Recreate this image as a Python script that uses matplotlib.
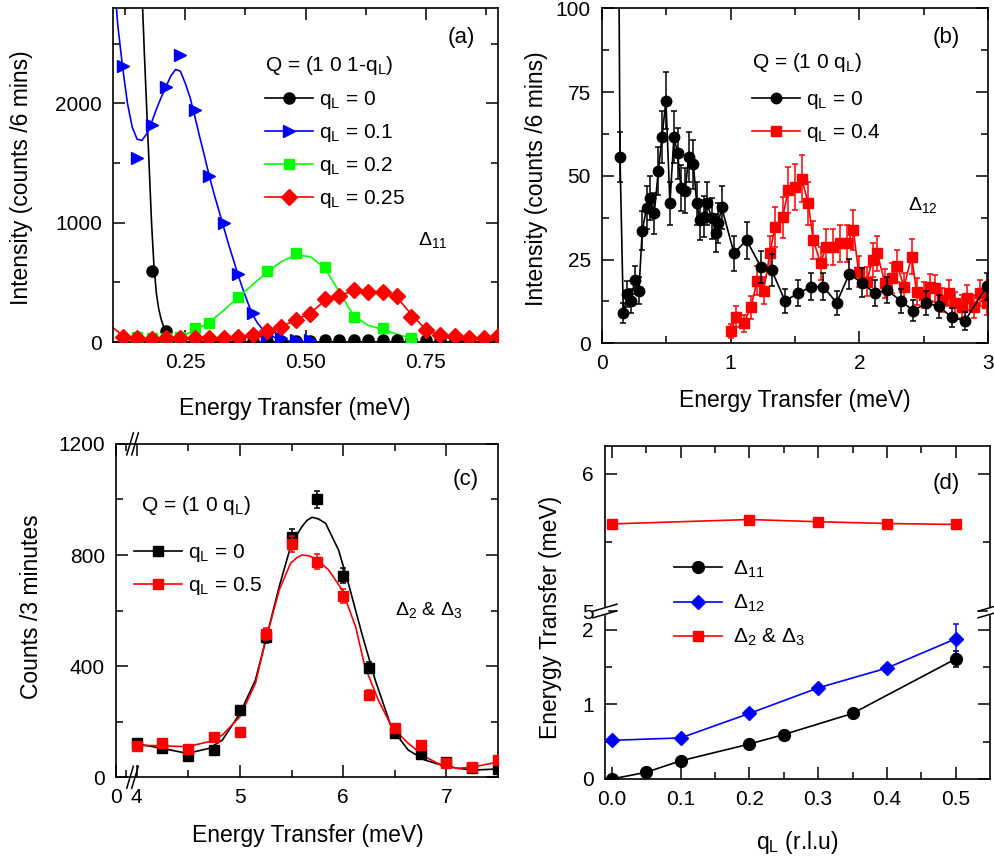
"""Four-panel spin-wave spectra figure: (a)-(d)."""

import matplotlib
matplotlib.use("Agg")
import matplotlib.pyplot as plt
import numpy as np
from matplotlib.ticker import FixedLocator, FormatStrFormatter

# ---------------- panel (a): Q = (1 0 1-qL) ----------------
a_x_q0 = [0.18, 0.21, 0.24, 0.27, 0.30, 0.33, 0.36, 0.39, 0.42, 0.45, 0.48, 0.51, 0.54,
          0.57, 0.60, 0.63, 0.66, 0.69, 0.72, 0.75, 0.78, 0.81, 0.84, 0.87, 0.90]
a_y_q0 = [594, 90, 15, 10, 8, 8, 8, 8, 10, 12, 12, 12, 15,
          15, 15, 15, 15, 15, 15, 15, 15, 15, 15, 15, 15]
a_x_q01 = [0.12, 0.15, 0.18, 0.21, 0.24, 0.27, 0.30, 0.33, 0.36, 0.39, 0.42, 0.45, 0.48, 0.51]
a_y_q01 = [2316, 1546, 1818, 2134, 2406, 1944, 1392, 994, 572, 244, 48, 30, 20, 15]
a_x_q02 = [0.15, 0.18, 0.21, 0.24, 0.27, 0.30, 0.36, 0.42, 0.48, 0.54, 0.60, 0.66, 0.72]
a_y_q02 = [42, 30, 35, 42, 118, 160, 378, 593, 750, 630, 210, 118, 34]
a_x_q025 = [0.12, 0.15, 0.18, 0.21, 0.24, 0.27, 0.30, 0.33, 0.36, 0.39, 0.42, 0.45, 0.48, 0.51,
            0.54, 0.57, 0.60, 0.63, 0.66, 0.69, 0.72, 0.75, 0.78, 0.81, 0.84, 0.87, 0.90]
a_y_q025 = [38, 30, 28, 30, 30, 30, 32, 34, 42, 60, 89, 126, 182, 232,
            361, 389, 434, 417, 417, 389, 210, 97, 61, 47, 34, 34, 47]
# fitted curves
a_fit_x_q0 = [0.155, 0.16, 0.165, 0.17, 0.175, 0.18, 0.185, 0.19, 0.195, 0.20, 0.205,
              0.21, 0.22, 0.23, 0.25, 0.90]
a_fit_y_q0 = [3600, 2950, 2430, 1950, 1480, 1000, 640, 410, 275, 190, 130, 85, 40, 15, 0, 0]
a_fit_x_q01 = [0.10, 0.11, 0.12, 0.13, 0.14, 0.15, 0.16, 0.17, 0.18, 0.19, 0.20, 0.21, 0.22,
               0.23, 0.24, 0.25, 0.26, 0.27, 0.28, 0.29, 0.30, 0.31, 0.32, 0.33, 0.34, 0.35,
               0.36, 0.37, 0.38, 0.39, 0.40, 0.41, 0.42, 0.44, 0.46, 0.50, 0.52]
a_fit_y_q01 = [3150, 2650, 2300, 2000, 1800, 1700, 1690, 1745, 1840, 1950, 2050, 2140, 2230,
               2285, 2270, 2170, 2050, 1890, 1720, 1560, 1390, 1240, 1100, 960, 820, 690,
               560, 440, 330, 230, 160, 110, 70, 30, 10, 0, 0]
a_fit_x_q02 = [0.15, 0.18, 0.21, 0.24, 0.27, 0.30, 0.33, 0.36, 0.39, 0.42, 0.45, 0.48, 0.51,
               0.54, 0.57, 0.60, 0.63, 0.66, 0.69, 0.72]
a_fit_y_q02 = [20, 20, 25, 40, 100, 165, 265, 375, 480, 585, 675, 730, 715,
               620, 420, 220, 140, 105, 65, 30]
a_fit_x_q025 = [0.10, 0.12, 0.14, 0.16, 0.20, 0.25, 0.30, 0.33, 0.36, 0.39, 0.42, 0.45, 0.48,
                0.51, 0.54, 0.57, 0.60, 0.63, 0.66, 0.69, 0.72, 0.75, 0.78, 0.81, 0.84, 0.87, 0.90]
a_fit_y_q025 = [120, 55, 15, 3, 0, 0, 5, 15, 30, 52, 85, 130, 185,
                245, 345, 395, 425, 428, 415, 375, 230, 105, 50, 20, 8, 2, 0]

# ---------------- panel (b): Q = (1 0 qL) ----------------
b_x_q0 = [0.11, 0.14, 0.166, 0.197, 0.223, 0.256, 0.287, 0.313, 0.347, 0.373, 0.406, 0.438,
          0.466, 0.497, 0.528, 0.559, 0.588, 0.614, 0.647, 0.673, 0.71, 0.736, 0.761, 0.79,
          0.818, 0.852, 0.886, 0.904, 0.93, 1.026, 1.124, 1.233, 1.318, 1.422, 1.525, 1.624,
          1.72, 1.823, 1.922, 2.018, 2.121, 2.212, 2.323, 2.419, 2.52, 2.62, 2.717, 2.82, 2.99]
b_y_q0 = [250, 55.7, 9.0, 14.7, 12.6, 18.9, 15.7, 33.6, 40.5, 43.3, 38.8, 51.5,
          61.5, 72.4, 41.8, 61.5, 56.7, 46.4, 45.5, 55.7, 53.5, 41.8, 36.8, 37.8,
          41.8, 37.3, 33.0, 35.8, 40.6, 26.9, 30.8, 22.9, 21.9, 12.7, 14.9, 16.9,
          16.9, 12.1, 20.7, 18.1, 14.9, 15.9, 12.7, 9.7, 12.0, 11.0, 7.8, 6.7, 17.0]
b_e_q0 = [16, 7.5, 3.0, 3.8, 3.5, 4.3, 4.0, 5.8, 6.4, 6.6, 6.2, 7.2,
          7.8, 8.5, 6.5, 7.8, 7.5, 6.8, 6.7, 7.5, 7.3, 6.5, 6.1, 6.1,
          6.5, 6.1, 5.7, 6.0, 6.4, 5.2, 5.5, 4.8, 4.7, 3.6, 3.9, 4.1,
          4.1, 3.5, 4.5, 4.3, 3.9, 4.0, 3.6, 3.1, 3.5, 3.3, 2.8, 2.6, 4.1]
b_x_q04 = [1.003, 1.044, 1.10, 1.158, 1.205, 1.256, 1.305, 1.344, 1.404, 1.448, 1.50, 1.552,
           1.603, 1.642, 1.699, 1.74, 1.797, 1.849, 1.906, 1.953, 1.994, 2.057, 2.103, 2.139,
           2.199, 2.251, 2.295, 2.347, 2.406, 2.445, 2.50, 2.552, 2.59, 2.642, 2.694, 2.746,
           2.798, 2.837, 2.889, 2.94, 2.992]
b_y_q04 = [3.7, 8.0, 6.0, 10.7, 18.7, 15.7, 26.9, 34.8, 37.6, 45.8, 46.7, 49.2,
           41.8, 30.8, 23.9, 28.8, 28.7, 29.8, 29.8, 33.8, 21.4, 18.4, 24.9, 26.9,
           17.9, 19.4, 23.1, 16.9, 25.9, 15.4, 14.4, 16.7, 16.4, 12.9, 14.9, 11.9,
           10.9, 13.6, 10.9, 14.9, 11.9]
b_e_q04 = [2.2, 3.0, 2.6, 3.4, 4.4, 4.1, 5.2, 5.9, 6.2, 6.8, 6.9, 7.0,
           6.5, 5.6, 4.9, 5.4, 5.4, 5.5, 5.5, 5.9, 4.7, 4.4, 5.0, 5.2,
           4.3, 4.5, 4.8, 4.2, 5.1, 4.0, 3.9, 4.1, 4.1, 3.6, 3.9, 3.5,
           3.4, 3.7, 3.4, 3.9, 3.5]

# ---------------- panel (c): Q = (1 0 qL), counts / 3 minutes ----------------
c_x = [4.0, 4.25, 4.5, 4.75, 5.0, 5.25, 5.5, 5.75, 6.0, 6.25, 6.5, 6.75, 7.0, 7.25, 7.5]
c_y_q0 = [125, 104, 78, 98, 242, 506, 866, 1001, 725, 395, 161, 83, 56, 32, 29]
c_e_q0 = [12, 10, 9, 10, 15, 22, 28, 31, 27, 20, 13, 9, 8, 6, 6]
c_y_q05 = [113, 122, 101, 144, 164, 516, 840, 776, 654, 296, 176, 116, 50, 38, 62]
c_e_q05 = [11, 11, 10, 12, 13, 22, 28, 27, 25, 17, 13, 11, 7, 6, 8]
c_fit_x_q0 = [4.0, 4.25, 4.49, 4.70, 4.83, 5.0, 5.15, 5.25, 5.38, 5.5, 5.6, 5.65, 5.7, 5.76,
              5.83, 5.955, 6.05, 6.18, 6.31, 6.47, 6.63, 6.79, 6.95, 7.11, 7.27, 7.5]
c_fit_y_q0 = [120, 104, 86, 104, 134, 230, 350, 494, 686, 842, 902, 925, 936, 930,
              914, 818, 698, 518, 350, 176, 98, 62, 44, 32, 26, 30]
c_fit_x_q05 = [4.0, 4.25, 4.49, 4.70, 4.83, 5.0, 5.15, 5.25, 5.38, 5.49, 5.55, 5.6, 5.66,
               5.73, 5.86, 5.99, 6.12, 6.21, 6.34, 6.47, 6.63, 6.79, 6.95, 7.11, 7.27, 7.5]
c_fit_y_q05 = [116, 113, 110, 128, 152, 218, 338, 494, 674, 770, 790, 800, 798,
               788, 746, 674, 542, 398, 278, 182, 122, 74, 44, 32, 38, 55]

# ---------------- panel (d): dispersion ----------------
d_x_d11 = [0.0, 0.05, 0.1, 0.2, 0.25, 0.35, 0.5]
d_y_d11 = [0.0, 0.09, 0.243, 0.468, 0.595, 0.878, 1.608]
d_e_d11 = [0.0, 0.05, 0.0, 0.0, 0.0, 0.0, 0.11]
d_x_d12 = [0.0, 0.1, 0.2, 0.3, 0.4, 0.5]
d_y_d12 = [0.518, 0.55, 0.878, 1.22, 1.486, 1.878]
d_e_d12 = [0.0, 0.0, 0.0, 0.0, 0.0, 0.2]
d_x_d23 = [0.0, 0.2, 0.3, 0.4, 0.5]
d_y_d23 = [5.634, 5.666, 5.65, 5.637, 5.63]

# broken-axis parameters
C_LO, C_HI = 0.16, 3.96
D_LO, D_HI, D_K = 2.25, 5.0, 1.84

BLACK, BLUE, GREEN, RED = "#000000", "#0000FF", "#00FF00", "#FF0000"
LW = 1.2
TICK_FS = 15
LABEL_FS = 16.5
LEG_FS = 15
ANN_FS = 14


def c_forward(x):
    x = np.asarray(x, dtype=float)
    return np.where(x <= C_LO, x, np.where(x < C_HI, C_LO, x - C_HI + C_LO))


def c_inverse(u):
    u = np.asarray(u, dtype=float)
    return np.where(u <= C_LO, u, u + C_HI - C_LO)


def d_forward(y):
    y = np.asarray(y, dtype=float)
    return np.where(y <= D_LO, y, np.where(y < D_HI, D_LO, D_LO + (y - D_HI) * D_K))


def d_inverse(u):
    u = np.asarray(u, dtype=float)
    return np.where(u <= D_LO, u, D_HI + (u - D_LO) / D_K)


def style_ticks(ax):
    ax.tick_params(which="both", direction="in", top=True, right=True, width=1.1,
                   labelsize=TICK_FS, pad=8)
    ax.tick_params(which="major", length=8.5)
    ax.tick_params(which="minor", length=5)
    for sp in ax.spines.values():
        sp.set_linewidth(1.2)


def slash(ax, fig, xf, yf, dx_px, dy_px, offsets, white=None):
    """Draw a pair of break marks centred at axes fraction (xf, yf)."""
    pos = ax.get_position()
    w = pos.width * fig.get_figwidth() * fig.dpi
    h = pos.height * fig.get_figheight() * fig.dpi
    if white is not None:
        wx, wy = white
        ax.fill([xf - wx / w, xf + wx / w, xf + wx / w, xf - wx / w],
                [yf - wy / h, yf - wy / h, yf + wy / h, yf + wy / h],
                color="white", transform=ax.transAxes, clip_on=False, zorder=5)
    for ox, oy in offsets:
        ax.plot([xf + (ox - dx_px) / w, xf + (ox + dx_px) / w],
                [yf + (oy - dy_px) / h, yf + (oy + dy_px) / h],
                color="black", lw=1.1, transform=ax.transAxes, clip_on=False, zorder=6)


def main() -> None:
    plt.rcParams["font.family"] = ["Liberation Sans", "DejaVu Sans"]
    plt.rcParams["mathtext.default"] = "regular"

    fig = plt.figure(figsize=(9.95, 8.6), dpi=100)
    ax_a = fig.add_axes([0.1136, 0.6023, 0.387, 0.3884])
    ax_b = fig.add_axes([0.605, 0.6008, 0.388, 0.3895])
    ax_c = fig.add_axes([0.1166, 0.0962, 0.384, 0.3876])
    ax_d = fig.add_axes([0.608, 0.0942, 0.387, 0.387])

    leg_kw = dict(loc="upper left", frameon=False, fontsize=LEG_FS, borderpad=0,
                  borderaxespad=0, handlelength=2.3, handletextpad=0.3, labelspacing=0.52)

    # ----- (a)
    ax = ax_a
    l0, = ax.plot(a_fit_x_q0, a_fit_y_q0, color=BLACK, lw=LW)
    m0, = ax.plot(a_x_q0, a_y_q0, "o", color=BLACK, ms=8, zorder=3)
    l1, = ax.plot(a_fit_x_q01, a_fit_y_q01, color=BLUE, lw=LW)
    m1, = ax.plot(a_x_q01, a_y_q01, ">", color=BLUE, ms=8.5, zorder=3)
    l2, = ax.plot(a_fit_x_q02, a_fit_y_q02, color=GREEN, lw=LW)
    m2, = ax.plot(a_x_q02, a_y_q02, "s", color=GREEN, ms=7.5, zorder=3)
    l3, = ax.plot(a_fit_x_q025, a_fit_y_q025, color=RED, lw=LW)
    m3, = ax.plot(a_x_q025, a_y_q025, "D", color=RED, ms=8, zorder=3)
    ax.set_xlim(0.1, 0.9)
    ax.set_ylim(0, 2800)
    ax.xaxis.set_major_locator(FixedLocator([0.25, 0.5, 0.75]))
    ax.xaxis.set_minor_locator(FixedLocator([0.125, 0.375, 0.625, 0.875]))
    ax.xaxis.set_major_formatter(FormatStrFormatter("%.2f"))
    ax.yaxis.set_major_locator(FixedLocator([0, 1000, 2000]))
    ax.yaxis.set_minor_locator(FixedLocator([500, 1500, 2500]))
    style_ticks(ax)
    ax.set_xlabel("Energy Transfer (meV)", fontsize=LABEL_FS)
    ax.set_ylabel("Intensity (counts /6 mins)", fontsize=LABEL_FS)
    ax.xaxis.set_label_coords(0.471, -0.165)
    ax.yaxis.set_label_coords(-0.207, 0.493)
    ax.text(0.395, 0.812, "Q = (1 0 1-q$_L$)", transform=ax.transAxes, fontsize=LEG_FS,
            va="baseline")
    ax.legend([(l0, m0), (l1, m1), (l2, m2), (l3, m3)],
              ["q$_L$ = 0", "q$_L$ = 0.1", "q$_L$ = 0.2", "q$_L$ = 0.25"],
              bbox_to_anchor=(0.395, 0.756), **leg_kw)
    ax.text(0.87, 0.911, "(a)", transform=ax.transAxes, fontsize=16, va="center")
    ax.text(0.792, 0.291, "Δ$_{11}$", transform=ax.transAxes, fontsize=ANN_FS,
            va="baseline")

    # ----- (b)
    ax = ax_b
    eb0 = ax.errorbar(b_x_q0, b_y_q0, yerr=b_e_q0, fmt="-o", color=BLACK, ms=7.5, lw=LW,
                      elinewidth=1.1, capsize=2.5, capthick=1.1, zorder=3)
    eb1 = ax.errorbar(b_x_q04, b_y_q04, yerr=b_e_q04, fmt="-s", color=RED, ms=6.5, lw=LW,
                      elinewidth=1.1, capsize=2.5, capthick=1.1, zorder=2)
    ax.set_xlim(0, 3)
    ax.set_ylim(0, 100)
    ax.xaxis.set_major_locator(FixedLocator([0, 1, 2, 3]))
    ax.xaxis.set_minor_locator(FixedLocator([0.5, 1.5, 2.5]))
    ax.yaxis.set_major_locator(FixedLocator([0, 25, 50, 75, 100]))
    ax.yaxis.set_minor_locator(FixedLocator([12.5, 37.5, 62.5, 87.5]))
    style_ticks(ax)
    ax.set_xlabel("Energy Transfer (meV)", fontsize=LABEL_FS)
    ax.set_ylabel("Intensity (counts /6 mins)", fontsize=LABEL_FS)
    ax.xaxis.set_label_coords(0.5, -0.136)
    ax.yaxis.set_label_coords(-0.139, 0.49)
    ax.text(0.389, 0.821, "Q = (1 0 q$_L$)", transform=ax.transAxes, fontsize=LEG_FS,
            va="baseline")
    ax.legend([eb0[0], eb1[0]], ["q$_L$ = 0", "q$_L$ = 0.4"],
              bbox_to_anchor=(0.389, 0.758), **leg_kw)
    ax.text(0.857, 0.914, "(b)", transform=ax.transAxes, fontsize=16, va="center")
    ax.text(0.793, 0.398, "Δ$_{12}$", transform=ax.transAxes, fontsize=ANN_FS,
            va="baseline")

    # ----- (c)
    ax = ax_c
    ax.set_xscale("function", functions=(c_forward, c_inverse))
    lc0, = ax.plot(c_fit_x_q0, c_fit_y_q0, color=BLACK, lw=LW)
    lc1, = ax.plot(c_fit_x_q05, c_fit_y_q05, color=RED, lw=LW)
    ec0 = ax.errorbar(c_x, c_y_q0, yerr=c_e_q0, fmt="s", color=BLACK, ms=7.5,
                      elinewidth=1.1, capsize=2.5, capthick=1.1, zorder=3)
    ec1 = ax.errorbar(c_x, c_y_q05, yerr=c_e_q05, fmt="s", color=RED, ms=7.5,
                      elinewidth=1.1, capsize=2.5, capthick=1.1, zorder=4)
    ax.set_xlim(0, 7.5)
    ax.set_ylim(0, 1200)
    ax.xaxis.set_major_locator(FixedLocator([0, 4, 5, 6, 7]))
    ax.xaxis.set_minor_locator(FixedLocator([0.1, 4.5, 5.5, 6.5]))
    ax.xaxis.set_major_formatter(FormatStrFormatter("%d"))
    ax.xaxis.set_minor_formatter(FormatStrFormatter(""))
    ax.yaxis.set_major_locator(FixedLocator([0, 400, 800, 1200]))
    ax.yaxis.set_minor_locator(FixedLocator([200, 600, 1000]))
    style_ticks(ax)
    ax.set_xlabel("Energy Transfer (meV)", fontsize=LABEL_FS)
    ax.set_ylabel("Counts /3 minutes", fontsize=LABEL_FS)
    ax.xaxis.set_label_coords(0.503, -0.14)
    ax.yaxis.set_label_coords(-0.19, 0.512)
    ax.text(0.065, 0.80, "Q = (1 0 q$_L$)", transform=ax.transAxes, fontsize=LEG_FS,
            va="baseline")
    ax.legend([(lc0, ec0[0]), (lc1, ec1[0])], ["q$_L$ = 0", "q$_L$ = 0.5"],
              bbox_to_anchor=(0.047, 0.705), **leg_kw)
    ax.text(0.88, 0.892, "(c)", transform=ax.transAxes, fontsize=16, va="center")
    ax.text(0.73, 0.487, "Δ$_2$ & Δ$_3$", transform=ax.transAxes, fontsize=ANN_FS,
            va="baseline")
    xb = float(c_forward(C_HI) / c_forward(7.5))
    for yb in (0.0, 1.0):
        slash(ax, fig, xb, yb, 3.3, 11, [(-2.5, 0), (2.5, 0)])

    # ----- (d)
    ax = ax_d
    ax.set_yscale("function", functions=(d_forward, d_inverse))
    ed0 = ax.errorbar(d_x_d11, d_y_d11, yerr=d_e_d11, fmt="-o", color=BLACK, ms=8.5,
                      lw=LW, elinewidth=1.1, capsize=2, capthick=1.1, zorder=3)
    ed1 = ax.errorbar(d_x_d12, d_y_d12, yerr=d_e_d12, fmt="-D", color=BLUE, ms=7.5,
                      lw=LW, elinewidth=1.1, capsize=2, capthick=1.1, zorder=3)
    ed2, = ax.plot(d_x_d23, d_y_d23, "-s", color=RED, ms=7.5, lw=LW, zorder=3)
    ax.set_xlim(-0.01, 0.55)
    ax.set_ylim(0, 6.2)
    ax.xaxis.set_major_locator(FixedLocator([0.0, 0.1, 0.2, 0.3, 0.4, 0.5]))
    ax.xaxis.set_minor_locator(FixedLocator([0.05, 0.15, 0.25, 0.35, 0.45]))
    ax.xaxis.set_major_formatter(FormatStrFormatter("%.1f"))
    ax.yaxis.set_major_locator(FixedLocator([0, 1, 2, 5, 6]))
    ax.yaxis.set_minor_locator(FixedLocator([0.5, 1.5, 5.5]))
    ax.yaxis.set_major_formatter(FormatStrFormatter("%d"))
    ax.yaxis.set_minor_formatter(FormatStrFormatter(""))
    style_ticks(ax)
    ax.set_xlabel("q$_L$ (r.l.u)", fontsize=LABEL_FS)
    ax.set_ylabel("Enerygy Transfer (meV)", fontsize=LABEL_FS)
    ax.xaxis.set_label_coords(0.50, -0.15)
    ax.yaxis.set_label_coords(-0.112, 0.485)
    d_kw = dict(leg_kw, handletextpad=0.55, labelspacing=0.62)
    ax.legend([ed0[0], ed1[0], ed2], ["Δ$_{11}$", "Δ$_{12}$", "Δ$_2$ & Δ$_3$"],
              bbox_to_anchor=(0.179, 0.662), **d_kw)
    ax.text(0.852, 0.889, "(d)", transform=ax.transAxes, fontsize=16, va="center")
    yb = float(d_forward(D_LO) / d_forward(6.2))
    for xb in (0.0, 1.0):
        slash(ax, fig, xb, yb, 12, 3.5, [(0, -3.3), (0, 3.3)], white=(2.5, 3.0))

    fig.savefig("out.png", dpi=100)
    plt.close(fig)


if __name__ == "__main__":
    main()
